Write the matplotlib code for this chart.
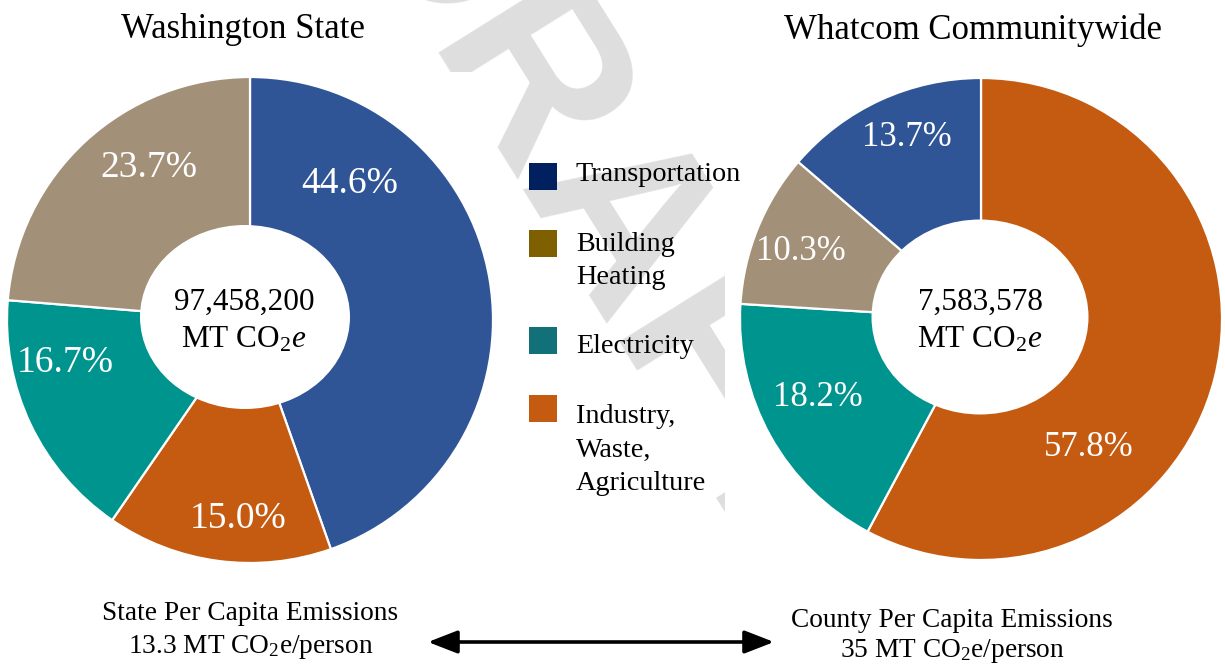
import matplotlib
matplotlib.use("Agg")
import matplotlib.pyplot as plt
from matplotlib.patches import Ellipse, Rectangle

plt.rcParams['font.family'] = ['Liberation Serif', 'DejaVu Serif']
plt.rcParams['mathtext.fontset'] = 'custom'
plt.rcParams['mathtext.rm'] = 'Liberation Serif'
plt.rcParams['mathtext.it'] = 'Liberation Serif:italic'

W, H = 1225, 669

# sector keys, legend labels and colours
sectors = ["transport", "building", "electric", "industry"]
legend_labels = [["Transportation"], ["Building", "Heating"], ["Electricity"],
                 ["Industry,", "Waste,", "Agriculture"]]
legend_colors = ["#002060", "#7F6000", "#127079", "#C55A11"]
pie_colors = {"transport": "#2F5597", "building": "#A39078",
              "electric": "#00948F", "industry": "#C55A11"}

# Washington State (clockwise from 12 o'clock)
state_sectors = ["transport", "industry", "electric", "building"]
state_share = [44.6, 15.0, 16.7, 23.7]
state_total = "97,458,200"
state_capita = "13.3"

# Whatcom communitywide (clockwise from 12 o'clock)
county_sectors = ["industry", "electric", "building", "transport"]
county_share = [57.8, 18.2, 10.3, 13.7]
county_total = "7,583,578"
county_capita = "35"


def up(y):
    # pixel row (from top) -> data y (from bottom)
    return H - y


def donut(ax, shares, keys, center, radius, hole, label_xy, label_size):
    wedges, _ = ax.pie(shares, colors=[pie_colors[k] for k in keys],
                       startangle=90, counterclock=False,
                       radius=radius, center=center,
                       wedgeprops=dict(edgecolor="white", linewidth=1.6,
                                       zorder=2))
    ax.add_patch(Ellipse(hole[0], hole[1], hole[2], facecolor="white",
                         edgecolor="none", zorder=3))
    for v, (x, y) in zip(shares, label_xy):
        ax.text(x, up(y), f"{v:.1f}%", color="white", fontsize=label_size,
                ha="center", va="center", zorder=4)


fig = plt.figure(figsize=(W / 100, H / 100), dpi=100)
ax = fig.add_axes([0, 0, 1, 1])

# faint watermark, partly hidden behind the chart boxes
ax.text(595, up(215), "DRAFT", family="Liberation Sans", fontweight="bold",
        fontsize=170, color="#DEDEDE", rotation=-58, ha="center",
        va="center", zorder=0)
ax.add_patch(Rectangle((0, up(570)), 497, 498, facecolor="white",
                       edgecolor="none", zorder=1))
ax.add_patch(Rectangle((725, up(592)), 500, 506, facecolor="white",
                       edgecolor="none", zorder=1))

donut(ax, state_share, state_sectors, (250, up(320)), 243,
      ((245, up(317)), 210, 184),
      [(350, 184), (238, 519), (65, 363), (149, 168)], 27)
donut(ax, county_share, county_sectors, (981, up(319)), 241,
      ((980, up(317)), 217, 195),
      [(1089, 447), (818, 398), (801, 252), (907, 138)], 25)

ax.text(243, up(30), "Washington State", fontsize=25, ha="center",
        va="center", zorder=5)
ax.text(973, up(30), "Whatcom Communitywide", fontsize=25, ha="center",
        va="center", zorder=5)

for cx, total in [(244, state_total), (980, county_total)]:
    ax.text(cx, up(310), total, fontsize=22.5, ha="center", va="baseline",
            zorder=5)
    ax.text(cx, up(348), r"MT CO$_2$$\mathit{e}$", fontsize=22.5,
            ha="center", va="baseline", zorder=5)

# legend
leg_top = [163, 230, 327, 395]
leg_base = [181, 251, 353, 423]
for lines, col, yt, yb in zip(legend_labels, legend_colors, leg_top, leg_base):
    ax.add_patch(Rectangle((529, up(yt + 27)), 28, 27, facecolor=col,
                           edgecolor="none", zorder=5))
    for i, line in enumerate(lines):
        ax.text(576, up(yb + 33.5 * i), line, fontsize=20.3, ha="left",
                va="baseline", zorder=5)

# per-capita notes and arrow
ax.text(250, up(620), "State Per Capita Emissions", fontsize=19.7,
        ha="center", va="baseline", zorder=5)
ax.text(251, up(653), state_capita + r" MT CO$_2$e/person", fontsize=19.7,
        ha="center", va="baseline", zorder=5)
ax.text(952, up(627), "County Per Capita Emissions", fontsize=19.7,
        ha="center", va="baseline", zorder=5)
ax.text(952, up(657), county_capita + r" MT CO$_2$e/person", fontsize=19.7,
        ha="center", va="baseline", zorder=5)
ax.annotate("", xy=(428, up(642)), xytext=(774, up(642)),
            arrowprops=dict(arrowstyle="<|-|>,head_length=0.9,head_width=0.35",
                            color="black", lw=2.6, shrinkA=0, shrinkB=0,
                            mutation_scale=20), zorder=5)

ax.set_xlim(0, W)
ax.set_ylim(0, H)
ax.set_aspect("auto")
ax.axis("off")

fig.savefig("out.png", dpi=100, facecolor="white")
